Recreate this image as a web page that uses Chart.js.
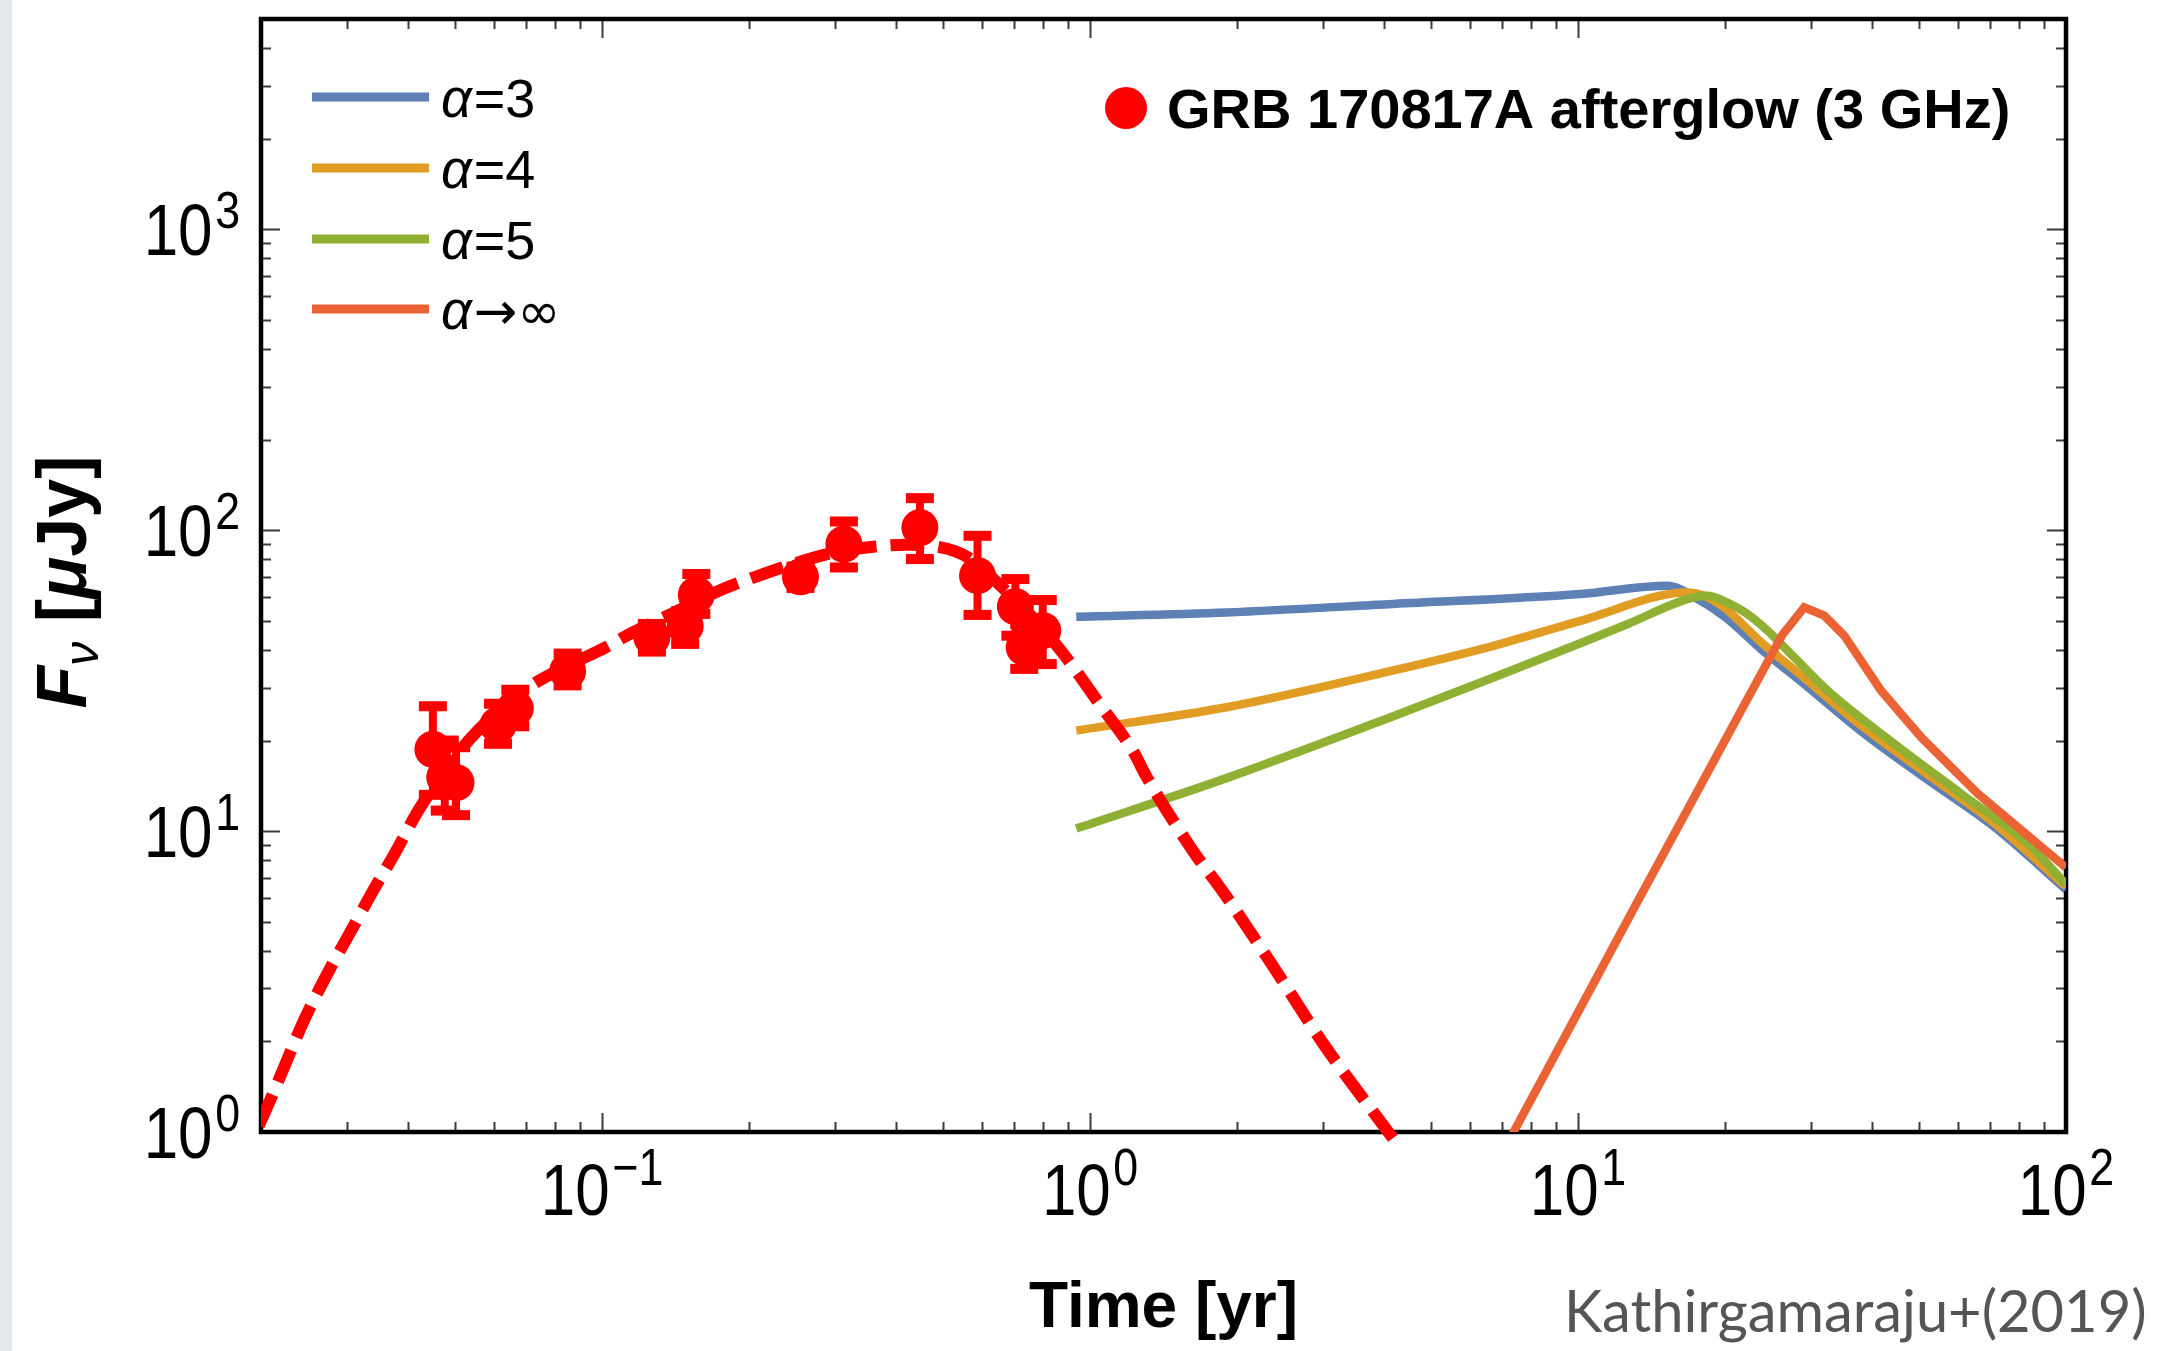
<!DOCTYPE html>
<html>
<head>
<meta charset="utf-8">
<script src="https://cdn.jsdelivr.net/npm/chart.js@4/dist/chart.umd.min.js"></script>
<style>
html,body{margin:0;padding:0;}
body{width:2165px;height:1351px;overflow:hidden;background:linear-gradient(to right,#e4e7ec 0,#e4e7ec 12px,#ffffff 12px);}
#wrap{position:absolute;left:0;top:0;width:2165px;height:1351px;}
</style>
</head>
<body>
<div id="wrap"><canvas id="c" width="2165" height="1351"></canvas></div>
<script>
// ---------------- data ----------------
// Observed GRB 170817A 3 GHz afterglow (time in yr, flux in microJy)
const obsT  = [0.0450, 0.0476, 0.0502, 0.0612, 0.0664, 0.0850, 0.1265, 0.1480, 0.1560, 0.2550, 0.3130, 0.4480, 0.5880, 0.7030, 0.7330, 0.8000];
const obsF  = [18.7, 15.1, 14.5, 22.5, 25.6, 34.0, 44.0, 48.0, 61.0, 70.0, 89.9, 102.0, 70.6, 55.7, 40.8, 46.4];
const obsLo = [13.2, 11.7, 11.3, 19.5, 22.3, 30.5, 39.5, 41.9, 52.7, 64.3, 75.2, 80.2, 52.3, 44.6, 34.6, 35.9];
const obsHi = [26.0, 20.0, 19.0, 26.5, 29.5, 38.9, 48.8, 53.8, 71.5, 75.7, 106.9, 127.8, 95.8, 68.8, 48.8, 58.6];

// Red dashed afterglow fit
const fitT = [0.0198, 0.0212, 0.0245, 0.0276, 0.0312, 0.0337, 0.0376, 0.042, 0.048, 0.054, 0.0706, 0.0867, 0.1015, 0.1151, 0.139, 0.176, 0.2063, 0.2377, 0.2962, 0.3637, 0.42, 0.4753, 0.53, 0.574, 0.6516, 0.7627, 0.893, 1.045, 1.224, 1.304, 1.622, 1.875, 2.386, 3.036, 3.958, 4.4];
const fitF = [1.05, 1.35, 2.35, 3.45, 4.94, 6.21, 8.43, 11.7, 16.0, 20.5, 30.0, 36.0, 40.7, 45.6, 52.8, 63.5, 70.0, 75.8, 84.0, 88.3, 89.5, 88.6, 85.0, 79.5, 66.0, 51.3, 37.8, 26.5, 18.5, 15.2, 8.63, 6.27, 3.50, 1.92, 1.07, 0.85];

// Model light curves
const a3T = [0.937, 1.904, 4.183, 10.11, 15.2, 17.84, 20.24, 23.69, 28.61, 38.0, 52.1, 71.4, 100];
const a3F = [51.6, 53.3, 56.9, 61.4, 65.4, 58.3, 50.7, 40.3, 31.5, 21.5, 14.8, 10.3, 6.4];

const a4T = [0.937, 1.904, 4.183, 6.71, 10.11, 16.75, 18.12, 19.92, 23.69, 28.61, 38.0, 52.1, 71.4, 100];
const a4F = [21.6, 25.8, 34.2, 41.3, 50.0, 62.1, 60.6, 55.4, 42.5, 33.0, 22.5, 15.4, 10.6, 6.55];

const a5T = [0.937, 1.904, 4.183, 6.71, 10.11, 12.61, 16.75, 18.41, 20.24, 22.24, 24.45, 27.73, 32.48, 44.5, 61.0, 83.6, 100];
const a5F = [10.2, 15.0, 24.1, 32.4, 42.1, 48.7, 59.0, 60.6, 57.5, 52.7, 46.4, 37.8, 29.3, 19.5, 13.3, 9.08, 6.65];

const aInfT = [7.0, 7.38, 13.22, 17.28, 22.24, 26.25, 29.07, 31.96, 35.13, 41.78, 50.5, 66.0, 100];
const aInfF = [0.86, 1.0, 5.8, 12.9, 27.5, 45.0, 55.4, 52.0, 44.6, 29.3, 20.5, 13.3, 7.57];

// Axes
const xMin = 0.02, xMax = 100, yMin = 1, yMax = 5000;
const xTickValues = [0.1, 1, 10, 100];
const xTickLabels = ['10\u2212\u00B9', '10\u2070', '10\u00B9', '10\u00B2'];
const xTickExp = ['\u22121', '0', '1', '2'];
const yTickValues = [1, 10, 100, 1000];
const yTickLabels = ['10\u2070', '10\u00B9', '10\u00B2', '10\u00B3'];
const yTickExp = ['0', '1', '2', '3'];
const xTitle = 'Time [yr]';
const yTitleParts = ['F', '\u03BD', ' [', '\u03BC', 'Jy]'];
const credit = 'Kathirgamaraju+(2019)';

const seriesLabels = ['\u03B1=3', '\u03B1=4', '\u03B1=5', '\u03B1\u2192\u221E'];
const seriesColors = ['#5E81B5', '#E19C24', '#8FB032', '#EB6235'];
const obsLabel = 'GRB 170817A afterglow (3 GHz)';

// ---------------- helpers ----------------
const FAM = '"Liberation Sans", Arial, Helvetica, sans-serif';
const pts = (t, f) => t.map((v, i) => ({x: v, y: f[i]}));

const xMinor = [], yMinor = [];
[0.01, 0.1, 1, 10].forEach(d => { for (let k = 2; k <= 9; k++) { const v = +(k * d).toPrecision(3); if (v > xMin && v < xMax) xMinor.push(v); } });
[1, 10, 100, 1000].forEach(d => { for (let k = 2; k <= 9; k++) { const v = k * d; if (v < yMax) yMinor.push(v); } });

const framePlugin = {
  id: 'frame',
  beforeDatasetsDraw(chart) {
    const {ctx, chartArea: a, scales: {x, y}} = chart;
    ctx.save();
    ctx.strokeStyle = '#3a3a3a';
    ctx.lineWidth = 2;
    const tx = (v, len) => {
      const p = Math.round(x.getPixelForValue(v)) + 0.5;
      ctx.beginPath();
      ctx.moveTo(p, a.bottom); ctx.lineTo(p, a.bottom - len);
      ctx.moveTo(p, a.top); ctx.lineTo(p, a.top + len);
      ctx.stroke();
    };
    const ty = (v, len) => {
      const p = Math.round(y.getPixelForValue(v)) + 0.5;
      ctx.beginPath();
      ctx.moveTo(a.left, p); ctx.lineTo(a.left + len, p);
      ctx.moveTo(a.right, p); ctx.lineTo(a.right - len, p);
      ctx.stroke();
    };
    xMinor.forEach(v => tx(v, 10));
    xTickValues.forEach(v => tx(v, 19));
    yMinor.forEach(v => ty(v, 10));
    yTickValues.forEach(v => ty(v, 19));
    ctx.strokeStyle = '#000';
    ctx.lineWidth = 4.5;
    ctx.strokeRect(a.left, a.top, a.right - a.left, a.bottom - a.top);
    ctx.restore();
  }
};

const errPlugin = {
  id: 'errbars',
  afterDatasetsDraw(chart) {
    const {ctx, chartArea: a, scales: {x, y}} = chart;
    ctx.save();
    ctx.beginPath();
    ctx.rect(a.left, a.top, a.right - a.left, a.bottom - a.top);
    ctx.clip();
    ctx.fillStyle = '#FF0000';
    obsT.forEach((t, i) => {
      const px = x.getPixelForValue(t);
      const yl = y.getPixelForValue(obsLo[i]);
      const yh = y.getPixelForValue(obsHi[i]);
      ctx.fillRect(px - 4, yh, 8, yl - yh);
      ctx.fillRect(px - 14, yh - 5, 28, 10);
      ctx.fillRect(px - 14, yl - 5, 28, 10);
    });
    ctx.restore();
  }
};

// tick labels "10" with a raised exponent (condensed like the original)
const SQ = 0.86;
function drawPow(ctx, exp, x0, baseBaseline, expBaseline) {
  ctx.save();
  ctx.translate(x0, 0);
  ctx.scale(SQ, 1);
  ctx.font = '72px ' + FAM;
  ctx.fillText('10', 0, baseBaseline);
  const wb = ctx.measureText('10').width;
  ctx.font = '52px ' + FAM;
  ctx.fillText(exp, wb + 3, expBaseline);
  ctx.restore();
}
function powWidth(ctx, exp) {
  ctx.font = '72px ' + FAM;
  const wb = ctx.measureText('10').width;
  ctx.font = '52px ' + FAM;
  const we = ctx.measureText(exp).width;
  return {wb: wb * SQ, we: we * SQ, total: (wb + 3 + we) * SQ};
}

const tickLabelPlugin = {
  id: 'ticklabels',
  afterDraw(chart) {
    const {ctx, chartArea: a, scales: {x, y}} = chart;
    ctx.save();
    ctx.fillStyle = '#000';
    ctx.textAlign = 'left';
    ctx.textBaseline = 'alphabetic';
    yTickValues.forEach((v, i) => {
      const p = y.getPixelForValue(v);
      const w = powWidth(ctx, yTickExp[i]);
      drawPow(ctx, yTickExp[i], 240 - w.total, p + 25.8, p - 1.5);
    });
    xTickValues.forEach((v, i) => {
      const p = x.getPixelForValue(v);
      const w = powWidth(ctx, xTickExp[i]);
      drawPow(ctx, xTickExp[i], p - w.total / 2, a.bottom + 82.5, a.bottom + 52.5);
    });
    ctx.restore();
  }
};

const annoPlugin = {
  id: 'anno',
  afterDraw(chart) {
    const {ctx} = chart;
    const ds = chart.data.datasets;
    ctx.save();
    // line legend (top-left)
    const rows = [97, 168, 239, 309];
    for (let i = 0; i < 4; i++) {
      const d = ds.find(s => s.label === seriesLabels[i]);
      const yy = rows[i];
      ctx.strokeStyle = d.borderColor;
      ctx.lineWidth = 9;
      ctx.beginPath(); ctx.moveTo(312, yy); ctx.lineTo(429, yy); ctx.stroke();
      ctx.fillStyle = '#000';
      ctx.textBaseline = 'alphabetic';
      ctx.textAlign = 'left';
      let xx = 441;
      ctx.font = 'italic 54px ' + FAM;
      ctx.fillText(d.label.charAt(0), xx, yy + 20);
      xx += ctx.measureText(d.label.charAt(0)).width + 2;
      const rest = d.label.slice(1);
      if (rest.charAt(0) === '=') {
        ctx.font = '54px ' + FAM;
      } else {
        ctx.font = '52px "DejaVu Sans", ' + FAM;
      }
      ctx.fillText(rest, xx, yy + 20);
    }
    // data legend (top-right)
    const od = ds.find(s => s.label === obsLabel);
    ctx.fillStyle = od.backgroundColor;
    ctx.beginPath(); ctx.arc(1126, 108, 21, 0, Math.PI * 2); ctx.fill();
    ctx.fillStyle = '#000';
    ctx.font = 'bold 56px ' + FAM;
    ctx.fillText(od.label, 1167, 128);

    // y-axis title (rotated)
    ctx.translate(61, 582);
    ctx.rotate(-Math.PI / 2);
    const parts = [
      {t: yTitleParts[0], f: 'italic bold 70px ' + FAM, dy: 0},
      {t: yTitleParts[1], f: 'italic 48px ' + FAM, dy: 12},
      {t: yTitleParts[2], f: 'bold 70px ' + FAM, dy: 0},
      {t: yTitleParts[3], f: 'italic bold 70px ' + FAM, dy: 0},
      {t: yTitleParts[4], f: 'bold 70px ' + FAM, dy: 0}
    ];
    let total = 0;
    parts.forEach(p => { ctx.font = p.f; p.w = ctx.measureText(p.t).width; total += p.w; });
    let cx = -total / 2;
    parts.forEach(p => { ctx.font = p.f; ctx.fillText(p.t, cx, 25 + p.dy); cx += p.w; });
    ctx.setTransform(1, 0, 0, 1, 0, 0);

    // credit
    ctx.fillStyle = '#555555';
    let fs = 58;
    ctx.font = fs + 'px Lato, "Open Sans", sans-serif';
    const w = ctx.measureText(credit).width;
    fs = fs * 583 / w;
    ctx.font = fs.toFixed(1) + 'px Lato, "Open Sans", sans-serif';
    ctx.fillText(credit, 1564, 1332);
    ctx.restore();
  }
};

const lineDs = (label, color, t, f, order, smooth) => ({
  type: 'line', label, data: pts(t, f), borderColor: color, backgroundColor: color,
  borderWidth: 8.5, pointRadius: 0, fill: false, order, clip: 0,
  cubicInterpolationMode: smooth ? 'monotone' : 'default', tension: 0
});

new Chart(document.getElementById('c'), {
  type: 'scatter',
  data: {
    datasets: [
      {type: 'scatter', label: obsLabel, data: pts(obsT, obsF), backgroundColor: '#FF0000',
       borderWidth: 0, pointRadius: 18.5, order: 0, clip: 0},
      {type: 'line', label: 'fit', data: pts(fitT, fitF), borderColor: '#FF0000', borderWidth: 12,
       borderDash: [34, 14], borderCapStyle: 'butt', pointRadius: 0, fill: false, order: 1,
       clip: {left: 0, top: 0, right: 0, bottom: 13},
       cubicInterpolationMode: 'monotone'},
      lineDs(seriesLabels[3], seriesColors[3], aInfT, aInfF, 2, false),
      lineDs(seriesLabels[2], seriesColors[2], a5T, a5F, 3, true),
      lineDs(seriesLabels[1], seriesColors[1], a4T, a4F, 4, true),
      lineDs(seriesLabels[0], seriesColors[0], a3T, a3F, 5, true)
    ]
  },
  options: {
    responsive: false,
    animation: false,
    devicePixelRatio: 1,
    layout: {padding: {left: 0, right: 99, top: 19, bottom: 0}},
    plugins: {legend: {display: false}, tooltip: {enabled: false}},
    scales: {
      x: {
        type: 'logarithmic', position: 'bottom', min: xMin, max: xMax,
        grid: {display: false, drawTicks: false}, border: {display: false},
        afterBuildTicks: s => { s.ticks = xTickValues.map(v => ({value: v})); },
        afterFit: s => { s.height = 219; s.paddingLeft = 0; s.paddingRight = 0; },
        ticks: {display: false, autoSkip: false, callback: (v, i) => xTickLabels[i]},
        title: {display: true, text: xTitle, color: '#000',
          font: {family: FAM, size: 64, weight: 'bold', lineHeight: 1}, padding: {top: 0, bottom: 10}}
      },
      y: {
        type: 'logarithmic', position: 'left', min: yMin, max: yMax,
        grid: {display: false, drawTicks: false}, border: {display: false},
        afterBuildTicks: s => { s.ticks = yTickValues.map(v => ({value: v})); },
        afterFit: s => { s.width = 261; s.paddingTop = 0; s.paddingBottom = 0; },
        ticks: {display: false, autoSkip: false, callback: (v, i) => yTickLabels[i]}
      }
    }
  },
  plugins: [framePlugin, errPlugin, tickLabelPlugin, annoPlugin]
});
</script>
</body>
</html>
